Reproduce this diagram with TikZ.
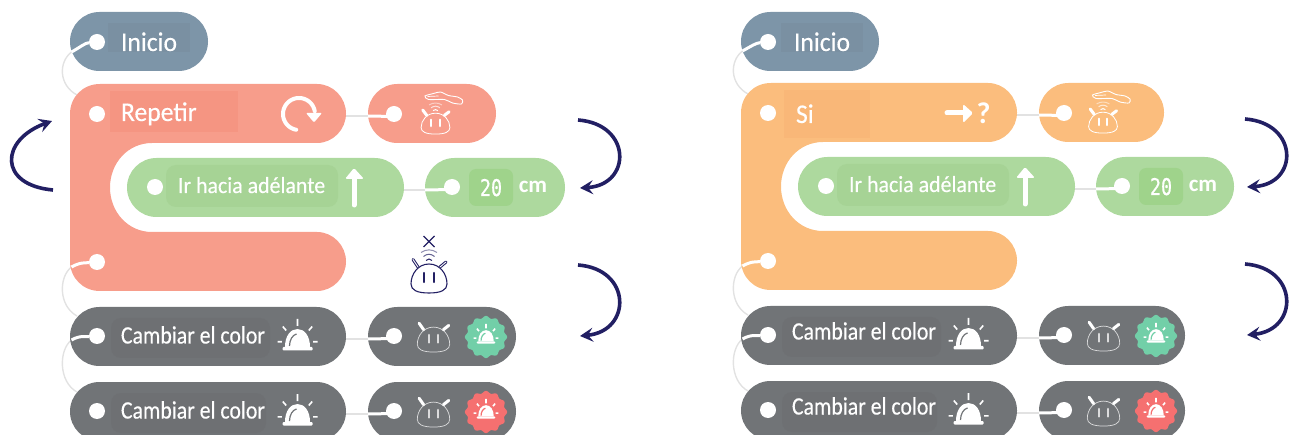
\documentclass[tikz,border=0pt]{standalone}
\usepackage{fontspec}
\usetikzlibrary{shapes.misc,arrows.meta}
\newfontfamily\labfont[FakeStretch=0.95,FakeBold=0.35]{Carlito}
\newfontfamily\labfontC[FakeStretch=0.87,FakeBold=0.35]{Carlito}
\newfontfamily\cmfont{Carlito}
\newfontfamily\numfont[FakeStretch=0.8,FakeBold=0.6]{DejaVu Sans Mono}
\definecolor{cblue}{HTML}{7D95A8}\definecolor{cblueD}{HTML}{7A90A2}
\definecolor{csalmon}{HTML}{F79D8B}\definecolor{csalmonD}{HTML}{F59582}
\definecolor{corange}{HTML}{FBBD7D}\definecolor{corangeD}{HTML}{F9B778}
\definecolor{cgreen}{HTML}{ADD99E}\definecolor{cgreenD}{HTML}{A6D395}\definecolor{cgreenS}{HTML}{9FD38B}
\definecolor{cgray}{HTML}{717477}\definecolor{cgrayD}{HTML}{6E7073}
\definecolor{cbadgeG}{HTML}{72CFA8}\definecolor{cbadgeR}{HTML}{F57070}
\definecolor{cnavy}{HTML}{221F63}\definecolor{cline}{HTML}{E2E2E2}
\tikzset{
  x=1pt,y=-1pt,
  pill/.style={rounded rectangle,inner sep=0pt,outer sep=0pt,minimum height=59pt},
  dotn/.style={circle,fill=white,inner sep=0pt,outer sep=0pt,minimum size=16pt},
  lab/.style={anchor=base west,inner sep=0pt,outer sep=0pt,text=white},
  glink/.style={draw=cline,line width=1.4pt},
  wlink/.style={draw=white,line width=3pt},
  navy/.style={draw=cnavy,line width=3.6pt,-{Stealth[length=13pt,width=14pt,inset=5pt]}},
  fsA/.style={font=\labfont\fontsize{27}{27}\selectfont},
  fsB/.style={font=\labfont\fontsize{23}{23}\selectfont},
  fsC/.style={font=\labfontC\fontsize{25}{25}\selectfont},
}
% pill by its left, right and top edge
\newcommand\pillat[5]{\node[pill,fill=#5,minimum width={#3-#2}] (#1) at ({(#2+#3)/2},{#4+29.5}) {};}
\newcommand\robot[6]{% x y sx sy colour headwidth
  \begin{scope}[shift={(#1,#2)},xscale=#3,yscale=#4]
    \draw[#5,line width=#6] (0,-15) .. controls (11,-15) and (18,-5) .. (18,5) .. controls (18,11) and (12,14) .. (0,14) .. controls (-12,14) and (-18,11) .. (-18,5) .. controls (-18,-5) and (-11,-15) .. (0,-15) -- cycle;
    \draw[#5,line width=2.2pt,line cap=round] (-5.3,-6) -- (-5.3,3) (5.3,-6) -- (5.3,3);
  \end{scope}}
\newcommand\ears[5]{% x y sx sy colour
  \begin{scope}[shift={(#1,#2)},xscale=#3,yscale=#4]
    \draw[#5,line width=3pt,line cap=round] (-11,-12) -- (-16,-19.5) (11,-12) -- (17,-17);
  \end{scope}}
\newcommand\waves[5]{% x y sx sy colour
  \begin{scope}[shift={(#1,#2)},xscale=#3,yscale=#4,#5,line width=1pt]
    \draw (-3,-18.5) .. controls (-1,-20.5) and (1,-20.5) .. (3,-18.5);
    \draw[opacity=.7] (-5.5,-22.5) .. controls (-2,-25.5) and (2,-25.5) .. (5.5,-22.5);
    \draw[opacity=.5] (-8,-26.5) .. controls (-3,-30) and (3,-30) .. (8,-26.5);
  \end{scope}}
\newcommand\sensor[2]{% x y : robot with a hand above it
  \robot{#1}{#2}{.8}{.72}{white}{.8pt}\ears{#1}{#2}{.8}{.72}{white}\waves{#1}{#2}{.8}{.72}{white}
  \begin{scope}[shift={(#1,#2)}]
    \draw[white,line width=.9pt] plot[smooth cycle,tension=.45] coordinates {(-10.5,-28) (-2,-30.5) (5,-32) (13,-28.5) (22,-27) (27,-24) (26,-20) (17,-21) (9,-24.5) (-7,-24.5)};
    \draw[white,line width=.7pt] (-8,-27.5) -- (3,-28);
  \end{scope}}
\newcommand\alarm[4]{% x y scale colour of the highlight
  \begin{scope}[shift={(#1,#2)},scale=#3]
    \fill[white] (-12.5,7) .. controls (-12.5,-4) and (-7,-11) .. (0,-11) .. controls (7,-11) and (12.5,-4) .. (12.5,7) -- cycle;
    \fill[white,rounded corners=1pt] (-15,7) rectangle (15,10.5);
    \draw[#4,line width=1.2pt] (-8,6) .. controls (-8,0) and (-5,-5) .. (-1,-6);
    \draw[white,line width=1.6pt] (0,-21) -- (0,-14) (-14.7,-13.5) -- (-11.3,-9.5) (14.7,-13.5) -- (11.3,-9.5) (-20,1.8) -- (-15.6,1.8) (20,1.8) -- (15.6,1.8);
  \end{scope}}
\newcommand\badge[3]{% x y colour
  \fill[#3] plot[smooth cycle,domain=0:355,samples=72] ({#1+(20+1.2*cos(12*\x))*cos(\x)},{#2+(20+1.2*cos(12*\x))*sin(\x)});
  \alarm{#1}{#2}{.62}{#3}}
\newcommand\graylink[4]{% free end a, free end b, y of a, y of b
  \coordinate (#1) at (71.5,#3); \coordinate (#2) at (77,#4);
  \draw[glink] (#1) .. controls (58.5,#3+10) and (58.5,#4-10) .. (#2);}
\newcommand\whitelink[2]{\draw[wlink] (#1) .. controls +(-12,1) and +(9,-5) .. (#2);}
\newcommand\sidelink[3]{% pill, next pill, dot in the next pill
  \draw[glink,line width=2pt] ([yshift=-2.5pt]#1.east) -- ([yshift=-2.5pt]#2.west);
  \draw[wlink] ([yshift=-2.5pt]#2.west) -- ([yshift=-2.5pt]#3.center);}
% one grey row: prefix, top, badge colour, base line shift, right end of backing
\newcommand\grayrow[5]{
  \pillat{#1a}{70}{346}{#2}{cgray}
  \pillat{#1b}{368+\subdx}{516+\subdx}{#2}{cgray}
  \fill[cgrayD,rounded corners=10pt] (111,#2+11) rectangle (#5,#2+51);
  \node[dotn] (#1d) at (97,#2+29) {};
  \node[dotn] (#1e) at (394+\subdx,#2+29) {};
  \node[lab,fsC] (#1t) at (121,#2+36.5+#4) {Cambiar el color};
  \alarm{297.5}{#2+33}{1}{cgray}
  \robot{433.5+\subdx}{#2+33}{.9}{.86}{white!75!cgray}{.7pt}
  \ears{433.5+\subdx}{#2+33}{.9}{.86}{white}
  \badge{486+\subdx}{#2+30}{#3}
  \sidelink{#1a}{#1b}{#1e}
}
% a whole panel: prefix, colour, backing colour, label, backing right, backing bottom, label x, icon, label base
\newcommand\panel[9]{
  \graylink{#1p}{#1q}{52}{95}
  \graylink{#1r}{#1s}{267}{316}
  \graylink{#1u}{#1v}{340}{392}
  % top block
  \pillat{#1start}{70}{208}{12+\inidy}{cblue}
  \fill[cblueD] (108+\inix,23+\inidy) rectangle (190+\inix,52+\inidy);
  \node[dotn] (#1sd) at (97,42+\inidy) {};
  \node[lab,fsA] (#1st) at (121+\inix,51+\inidy) {Inicio};
  \whitelink{#1sd}{#1p}
  % loop body
  \fill[#2] (100,84) -- (317,84) .. controls (333,84) and (346,97.5) .. (346,113.5) .. controls (346,129.5) and (333,143) .. (317,143) -- (152,143) .. controls (128,143) and (110,163) .. (110,187.5) .. controls (110,212) and (128,232) .. (152,232) -- (317,232) .. controls (333,232) and (346,245.5) .. (346,261.5) .. controls (346,277.5) and (333,291) .. (317,291) -- (100,291) .. controls (83,291) and (70,278) .. (70,261) -- (70,114) .. controls (70,97) and (83,84) .. (100,84) -- cycle;
  \coordinate (#1hd) at (346,113.5);
  \fill[#3] (\bl,\bt) rectangle (#5,#6);
  \node[dotn] (#1rd) at (97,114) {};
  \node[lab,fsA] (#1rt) at (#7,#9) {#4};
  #8
  \pillat{#1cond}{368+\subdx}{\condr}{84}{#2}
  \node[dotn] (#1cd) at (394+\subdx,114) {};
  \draw[glink,line width=2pt] ([yshift=-2.5pt]#1hd) -- ([yshift=-2.5pt]#1cond.west);
  \draw[wlink] ([yshift=-2.5pt]#1cond.west) -- ([yshift=-2.5pt]#1cd.center);
  \sensor{\senx}{124}
  % green block
  \pillat{#1go}{127}{404}{158}{cgreen}
  \pillat{#1val}{425+\subdx}{565+\subdx}{158}{cgreen}
  \fill[cgreenD,rounded corners=10pt] (166,165) rectangle (338,207);
  \fill[cgreenS,rounded corners=7pt] (469+\subdx,169) rectangle (513+\subdx,206);
  \node[dotn] (#1gd) at (155,187) {};
  \node[dotn] (#1vd) at (452+\subdx,187) {};
  \node[lab,fsB] (#1gt) at (178,193) {Ir hacia adélante};
  \node[inner sep=0pt,text=white,anchor=base,font=\numfont\fontsize{23}{23}\selectfont] (#1num) at (491+\subdx,196) {20};
  \node[inner sep=0pt,text=white,anchor=base,font=\cmfont\bfseries\fontsize{23}{23}\selectfont] (#1cm) at (533+\subdx,193) {cm};
  \draw[white,line width=5pt,line cap=round] (354,176) -- (354,205);
  \fill[white,rounded corners=1.5pt] (354,168) -- (364,179) -- (345,179) -- cycle;
  \sidelink{#1go}{#1val}{#1vd}
  % end of the loop
  \node[dotn] (#1ed) at (97,262) {};
  \whitelink{#1ed}{#1r}
  % grey rows
  \grayrow{#1x}{307}{cbadgeG}{\grdy}{270}
  \grayrow{#1y}{382}{cbadgeR}{\grdy}{266}
  \whitelink{#1xd}{#1u}
  % turn arrows
  \draw[navy] (578+\arx,120) .. controls (632+\arx,124) and (632+\arx,185) .. (580+\arx,188);
  \draw[navy] (578+\arx,265) .. controls (632+\arx,269) and (632+\arx,331) .. (580+\arx,336);
}
\begin{document}
\begin{tikzpicture}
\path[use as bounding box,clip] (0,0) rectangle (1290,435);
% left panel
\def\inidy{0}\def\inix{0}\def\grdy{0}\def\bl{110}\def\bt{91}\def\condr{496}\def\senx{435.5}\def\subdx{0}\def\arx{0}
\panel{L}{csalmon}{csalmonD}{Repetir}{238}{132}{121}{%
  \draw[white,line width=4pt,line cap=round] plot[domain=100:350,samples=40] ({299+16*cos(\x)},{114+16*sin(\x)});
  \fill[white,rounded corners=1pt] (306,113) -- (322,113) -- (314,122.5) -- cycle;
}{121}
\draw[navy] (53,190) .. controls (-2,185) and (0,140) .. (52,121);
% the one standalone robot
\robot{429}{279}{1}{1}{cnavy}{1.1pt}
\ears{429}{279}{1}{1}{cnavy}
\draw[white,line width=.9pt,line cap=round] (418,267) -- (413,259.5) (440,267) -- (446,262);
\waves{429}{279}{1}{1}{cnavy}
\draw[cnavy,line width=1.1pt] (423.5,236) -- (434.5,247) (434.5,236) -- (423.5,247);
% right panel
\begin{scope}[shift={(671,-1)}]
\def\inidy{1}\def\inix{2}\def\grdy{-3}\def\bl{113}\def\bt{91}\def\condr{494}\def\senx{432}\def\subdx{-1}\def\arx{-4}
\panel{R}{corange}{corangeD}{Si}{199}{139}{125}{%
  \draw[white,line width=5pt,line cap=round] (276,114) -- (296,114);
  \fill[white,rounded corners=1.5pt] (292,105) -- (302,114) -- (292,124) -- cycle;
  \node[inner sep=0pt,text=white,anchor=base,font=\cmfont\bfseries\fontsize{30}{30}\selectfont] (Rq) at (312.5,125) {?};
}{124}
\end{scope}
\end{tikzpicture}
\end{document}
